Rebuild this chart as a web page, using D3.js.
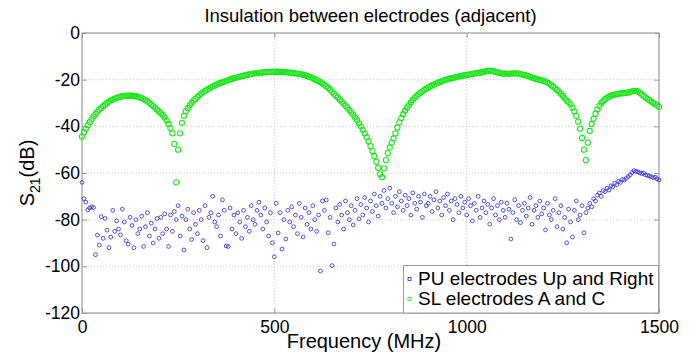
<!DOCTYPE html>
<html><head><meta charset="utf-8">
<script src="https://cdn.jsdelivr.net/npm/d3@7/dist/d3.min.js"></script>
<style>body{margin:0;background:#fff}svg{display:block}text{font-family:"Liberation Sans",Arial,sans-serif}</style>
</head><body><svg id="c" width="697" height="360"></svg>
<script>
const title = "Insulation between electrodes (adjacent)";
const xLabel = "Frequency (MHz)";
const seriesNames = ["PU electrodes Up and Right", "SL electrodes A and C"];
const xTicks = [0, 500, 1000, 1500];
const yTicks = [0, -20, -40, -60, -80, -100, -120];
const freqStep = 5; // MHz, 0..1500
const puValues = [
-64,-71,-72.5,-75.8,-75,-74.5,-74.8,-95,-86.6,-90.9,
-78.7,-88,-79.5,-84.5,-92,-87.5,-76,-85,-80.5,-84,
-86.5,-75.5,-81,-89,-90.5,-79,-82.5,-92,-80,-86,
-84,-78.5,-91.5,-83,-77,-87,-81.5,-90,-84,-79.5,
-88,-79,-86,-77.5,-84,-91.5,-78,-85,-76.5,-80,
-74,-87,-78.5,-93,-80,-75.5,-84,-88.5,-77,-82,
-86,-76,-80,-89,-74,-92,-79,-77,-70,-81,
-83,-78,-87,-71.5,-76,-91.3,-91.5,-75,-84,-78,
-86,-77,-81,-88,-76,-83,-79,-85,-74,-80,
-82,-76,-72.5,-78,-84,-75,-81,-87,-77,-89.9,
-95.9,-73,-85.7,-77,-92.6,-80,-88.3,-76,-81,-74.5,
-83,-78,-86,-73,-79,-87.4,-75,-82,-77,-84,
-74,-80,-85,-78,-102,-72,-76,-71.6,-85.6,-79,
-99.7,-90.4,-75,-81,-73.5,-78,-84,-72,-77,-80,
-74,-82.3,-76,-71,-79.7,-73.5,-78,-70.5,-75,-81,
-72,-76.5,-69,-74,-78.5,-70,-73,-67.5,-75,-71,
-66.5,-73,-77,-70,-74.5,-68,-72,-76,-69.5,-74,
-71,-78,-68.5,-73,-75.5,-70,-72.5,-79,-69,-74,
-73,-70,-76.5,-71.5,-68,-75,-72,-78,-70.5,-74,
-69,-76,-72,-80,-71,-73.5,-77,-70,-75,-72.5,
-78,-71,-74,-80.5,-73,-76,-70,-79,-75,-72,
-77,-73.5,-81.9,-75,-71,-78,-74,-80,-72.5,-76,
-79,-73,-75.5,-88.3,-77,-71.5,-80,-74,-81.3,-76,
-73,-78.5,-75,-70.5,-82,-76,-74,-79,-72,-77.5,
-75,-84.4,-73,-78,-80,-76,-71,-83,-77,-74,
-84,-79,-89.9,-75.5,-81,-87.4,-76,-72,-80,-78,
-74,-85.6,-77,-75,-73,-74.5,-71,-72,-69.5,-68.6,
-70,-67.5,-68,-66.5,-67.3,-65.5,-66,-64.4,-65,-63.5,
-64,-62.8,-63,-62.3,-61.5,-60.8,-59.8,-59,-59.3,-59.5,
-59.9,-60.3,-60,-60.8,-61,-61.3,-61.6,-62,-61.8,-62.5,
-63];
const slValues = [
-44.4,-42.5,-41,-39.5,-38.2,-37,-35.8,-34.8,-33.8,-32.9,
-32.1,-31.3,-30.6,-30,-29.4,-28.9,-28.5,-28.1,-27.8,-27.5,
-27.3,-27.1,-27,-26.9,-26.9,-26.9,-26.9,-27,-27.1,-27.3,
-27.6,-27.9,-28.3,-28.8,-29.3,-29.9,-30.6,-31.3,-32,-32.8,
-33.6,-34.4,-35.1,-36.2,-37.5,-39,-40.8,-43,-47.5,-64,
-50,-43,-38.5,-35.5,-33.5,-32.2,-31,-30,-29,-28.2,
-27.4,-26.7,-26,-25.4,-24.8,-24.3,-23.8,-23.3,-22.9,-22.5,
-22.1,-21.7,-21.4,-21.1,-20.8,-20.5,-20.2,-19.9,-19.6,-19.4,
-19.2,-18.9,-18.7,-18.5,-18.3,-18.1,-17.9,-17.7,-17.6,-17.4,
-17.3,-17.2,-17.1,-17,-16.9,-16.8,-16.8,-16.7,-16.7,-16.6,
-16.6,-16.6,-16.6,-16.7,-16.7,-16.8,-16.8,-16.9,-17,-17.1,
-17.2,-17.3,-17.4,-17.5,-17.7,-17.9,-18.1,-18.4,-18.7,-19,
-19.4,-19.8,-20.2,-20.6,-21.1,-21.6,-22.2,-22.8,-23.5,-24.2,
-25.2,-26,-26.8,-27.6,-28.5,-29.4,-30.3,-31.2,-32,-33,
-34,-35,-36.2,-37.4,-38.7,-40,-41.5,-43,-44.6,-46.5,
-48.5,-50.6,-52.8,-55.2,-57.8,-60.5,-61.8,-58,-54.5,-51.5,
-49,-47,-45.2,-43,-40.5,-38.3,-36.5,-34.8,-33.3,-32,
-30.8,-29.7,-28.7,-27.8,-27,-26.3,-25.6,-25,-24.4,-23.9,
-23.4,-22.9,-22.5,-22.1,-21.7,-21.3,-21,-20.7,-20.4,-20.1,
-19.8,-19.6,-19.4,-19.2,-19,-18.8,-18.6,-18.5,-18.3,-18.1,
-18,-17.8,-17.7,-17.5,-17.4,-17.2,-17.1,-17,-16.8,-16.6,
-16.4,-16.2,-16.1,-16.2,-16.4,-16.7,-16.9,-17.1,-17.3,-17.4,
-17.4,-17.4,-17.5,-17.4,-17.3,-17.3,-17.3,-17.4,-17.6,-17.8,
-18,-18.2,-18.5,-18.8,-19.1,-19.4,-19.7,-19.9,-20.1,-20.3,
-20.5,-20.8,-21.3,-21.8,-22.4,-23,-23.7,-24.4,-25.1,-26,
-27,-28,-29,-29.6,-30.5,-32,-33.6,-35.5,-38,-41,
-45,-50,-54.5,-47,-42,-39,-36.8,-34.6,-32.7,-31.2,
-30,-29.1,-28.4,-27.8,-27.3,-26.9,-26.6,-26.4,-26.2,-26,
-25.9,-25.8,-25.8,-25.7,-25.5,-25.2,-25,-24.8,-24.8,-25,
-25.6,-26.3,-27,-27.6,-28.2,-28.8,-29.4,-30,-30.5,-31,
-31.6];

const colors = ["#2a2ad8", "#1ee61e"];
const FONT = '"Liberation Sans",Arial,sans-serif';
const svg = d3.select("#c");
const m = {l: 82, r: 659, t: 33, b: 313};
const x = d3.scaleLinear().domain([0, 1500]).range([m.l, m.r]);
const y = d3.scaleLinear().domain([-120, 0]).range([m.b, m.t]);
const freqs = puValues.map((_, i) => i * freqStep);

// grid
const g = svg.append("g");
g.selectAll(".gy").data(yTicks.filter(v => v > -120 && v < 0)).join("line")
  .attr("x1", m.l).attr("x2", m.r).attr("y1", d => y(d)).attr("y2", d => y(d))
  .attr("stroke", "#bbb").attr("stroke-width", 0.8).attr("stroke-dasharray", "1,2");
g.selectAll(".gx").data(xTicks.filter(v => v > 0 && v < 1500)).join("line")
  .attr("y1", m.t).attr("y2", m.b).attr("x1", d => x(d)).attr("x2", d => x(d))
  .attr("stroke", "#bbb").attr("stroke-width", 0.8).attr("stroke-dasharray", "1,2");

// axes
const axColor = "#999";
const ax = (sel) => { sel.select(".domain").remove(); sel.selectAll("line").attr("stroke", axColor);
  sel.selectAll("text").attr("fill", "#000").style("font-size", "17.5px").style("font-family", FONT); };
svg.append("g").attr("transform", `translate(0,${m.b})`)
  .call(d3.axisBottom(x).tickValues(xTicks).tickSize(-5).tickPadding(8).tickFormat(d3.format("d"))).call(ax);
svg.append("g").attr("transform", `translate(0,${m.t})`)
  .call(d3.axisTop(x).tickValues(xTicks).tickSize(-5).tickFormat("")).call(ax);
svg.append("g").attr("transform", `translate(${m.l},0)`)
  .call(d3.axisLeft(y).tickValues(yTicks).tickSize(-5).tickPadding(2).tickFormat(d => d === 0 ? "0" : "-" + Math.abs(d))).call(ax);
svg.append("g").attr("transform", `translate(${m.r},0)`)
  .call(d3.axisRight(y).tickValues(yTicks).tickSize(-5).tickFormat("")).call(ax);
svg.append("rect").attr("x", m.l).attr("y", m.t).attr("width", m.r - m.l).attr("height", m.b - m.t)
  .attr("fill", "none").attr("stroke", axColor).attr("stroke-width", 1.2);

// data
const radii = [1.9, 2.6];
[puValues, slValues].forEach((vals, k) => {
  svg.append("g").selectAll("circle").data(vals).join("circle")
    .attr("cx", (d, i) => x(freqs[i])).attr("cy", d => y(d)).attr("r", radii[k])
    .attr("fill", "none").attr("stroke", colors[k]).attr("stroke-width", k ? 1.1 : 0.8);
});

// legend
const lg = svg.append("g");
lg.append("rect").attr("x", 403.5).attr("y", 265.5).attr("width", 255).attr("height", 47.5)
  .attr("fill", "#fff").attr("stroke", axColor).attr("stroke-width", 1);
seriesNames.forEach((n, k) => {
  const yy = 279 + k * 20;
  lg.append("rect").attr("x", 408).attr("y", yy - 1.5).attr("width", 3).attr("height", 3)
    .attr("fill", "none").attr("stroke", colors[k]).attr("stroke-width", 0.8);
  lg.append("text").attr("x", 418).attr("y", yy + 6).style("font-size", "19px").text(n);
});

// titles
svg.append("text").attr("x", (m.l + m.r) / 2).attr("y", 22).attr("text-anchor", "middle")
  .style("font-size", "18.5px").text(title);
svg.append("text").attr("x", 364).attr("y", 348).attr("text-anchor", "middle")
  .style("font-size", "20px").text(xLabel);
const yl = svg.append("text").attr("transform", `translate(34,${(m.t + m.b) / 2}) rotate(-90)`)
  .attr("text-anchor", "middle").style("font-size", "20px");
yl.append("tspan").text("S");
yl.append("tspan").attr("dy", 6).style("font-size", "14px").text("21");
yl.append("tspan").attr("dy", -6).text("(dB)");
</script></body></html>
